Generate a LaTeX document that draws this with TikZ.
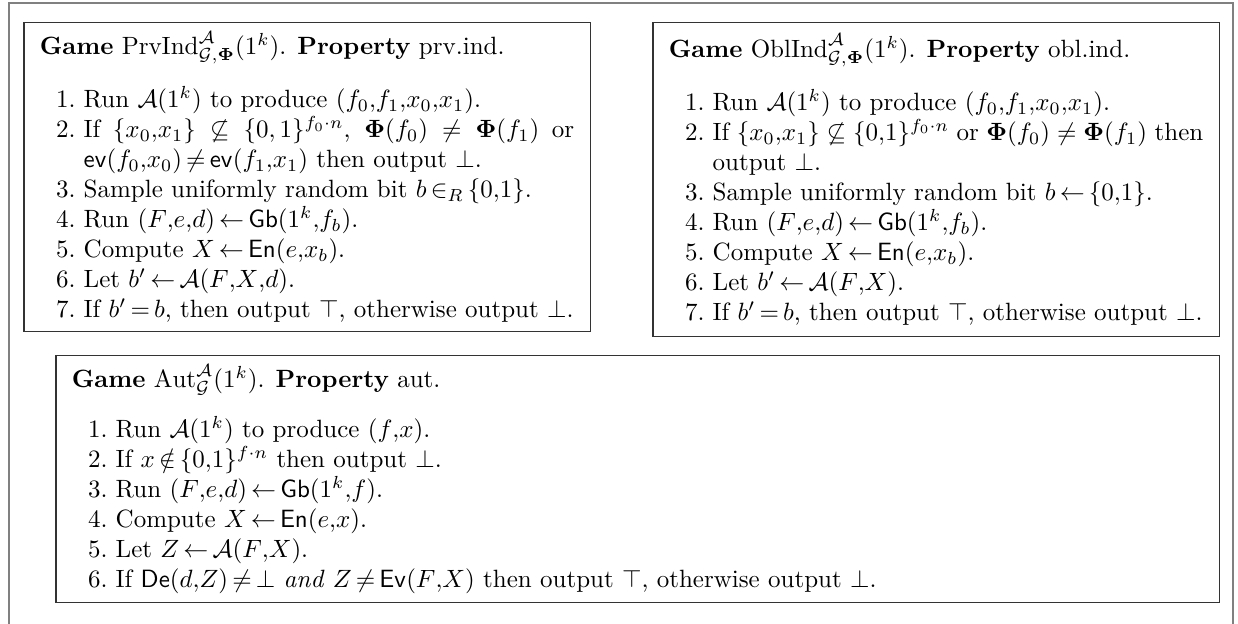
\documentclass[tikz,border=0pt]{standalone}
\usepackage{amsmath}
\usepackage{amssymb}
\usepackage{enumitem}
\usepackage{tikz}

% algorithm names and game symbols
\newcommand{\algGb}{\mathsf{Gb}}
\newcommand{\algEn}{\mathsf{En}}
\newcommand{\algDe}{\mathsf{De}}
\newcommand{\algEv}{\mathsf{Ev}}
\newcommand{\algev}{\mathsf{ev}}
\newcommand{\advA}{\mathcal{A}}
\newcommand{\schemeG}{\mathcal{G}}
\newcommand{\bPhi}{\boldsymbol{\Phi}}
\newcommand{\asgn}{\,{\leftarrow}\,}

% numbered steps of a game
\newenvironment{gamesteps}
  {\begin{enumerate}[label=\arabic*., leftmargin=*, labelindent=6.5pt, labelsep=3.3pt,
     topsep=8pt, partopsep=0pt, itemsep=0pt, parsep=0pt]}
  {\end{enumerate}}

\begin{document}
\begin{tikzpicture}[
    x=0.4pt, y=-0.4pt,
    frame/.style={draw=black!50, line width=0.8pt},
    game/.style={draw=black!80, line width=0.6pt, anchor=north west,
                 inner xsep=6.4pt, inner ysep=3.5pt, align=left}
]
    \useasboundingbox (0,0) rectangle (1238,624);

    % outer frame, open at the bottom
    \draw[frame] (9,624) |- (1233,3) -- (1233,624);

    % private indistinguishability
    \node[game] (prvind) at (23,22) {\begin{minipage}{213.8pt}
        \textbf{Game} $\mathrm{PrvInd}^{\advA}_{\schemeG,\bPhi}(1^k)$. \textbf{Property} prv.ind.
        \begin{gamesteps}
            \item Run $\advA(1^k)$ to produce $(f_0{,}f_1{,}x_0{,}x_1)$.
            \item If $\{x_0{,}x_1\}\not\subseteq\{0,1\}^{f_0\cdot n}$, $\bPhi(f_0)\neq\bPhi(f_1)$ or
                  $\algev(f_0{,}x_0)\,{\neq}\,\algev(f_1{,}x_1)$ then output $\bot$.
            \item Sample uniformly random bit $b\,{\in_R}\,\{0{,}1\}$.
            \item Run $(F{,}e{,}d)\asgn\algGb(1^k{,}f_b)$.
            \item Compute $X\asgn\algEn(e{,}x_b)$.
            \item Let $b'\asgn\advA(F{,}X{,}d)$.
            \item If $b'\,{=}\,b$, then output $\top$, otherwise output $\bot$.
        \end{gamesteps}
    \end{minipage}};

    % obliviousness
    \node[game, inner ysep=4.5pt] (oblind) at (652,22) {\begin{minipage}{213.8pt}
        \textbf{Game} $\mathrm{OblInd}^{\advA}_{\schemeG,\bPhi}(1^k)$. \textbf{Property} obl.ind.
        \begin{gamesteps}
            \item Run $\advA(1^k)$ to produce $(f_0{,}f_1{,}x_0{,}x_1)$.
            \item If $\{x_0{,}x_1\}\not\subseteq\{0{,}1\}^{f_0\cdot n}$ or $\bPhi(f_0)\neq\bPhi(f_1)$ then
                  output $\bot$.
            \item Sample uniformly random bit $b\asgn\{0{,}1\}$.
            \item Run $(F{,}e{,}d)\asgn\algGb(1^k{,}f_b)$.
            \item Compute $X\asgn\algEn(e{,}x_b)$.
            \item Let $b'\asgn\advA(F{,}X)$.
            \item If $b'\,{=}\,b$, then output $\top$, otherwise output $\bot$.
        \end{gamesteps}
    \end{minipage}};

    % authenticity
    \node[game] (aut) at (55,355) {\begin{minipage}{452.6pt}
        \textbf{Game} $\mathrm{Aut}^{\advA}_{\schemeG}(1^k)$. \textbf{Property} aut.
        \begin{gamesteps}
            \item Run $\advA(1^k)$ to produce $(f{,}x)$.
            \item If $x\,{\notin}\,\{0{,}1\}^{f\cdot n}$ then output $\bot$.
            \item Run $(F{,}e{,}d)\asgn\algGb(1^k{,}f)$.
            \item Compute $X\asgn\algEn(e{,}x)$.
            \item Let $Z\asgn\advA(F{,}X)$.
            \item If $\algDe(d{,}Z)\,{\neq}\,\bot$ \textit{and} $Z\,{\neq}\,\algEv(F{,}X)$ then output $\top$,
                  otherwise output $\bot$.
        \end{gamesteps}
    \end{minipage}};
\end{tikzpicture}
\end{document}
